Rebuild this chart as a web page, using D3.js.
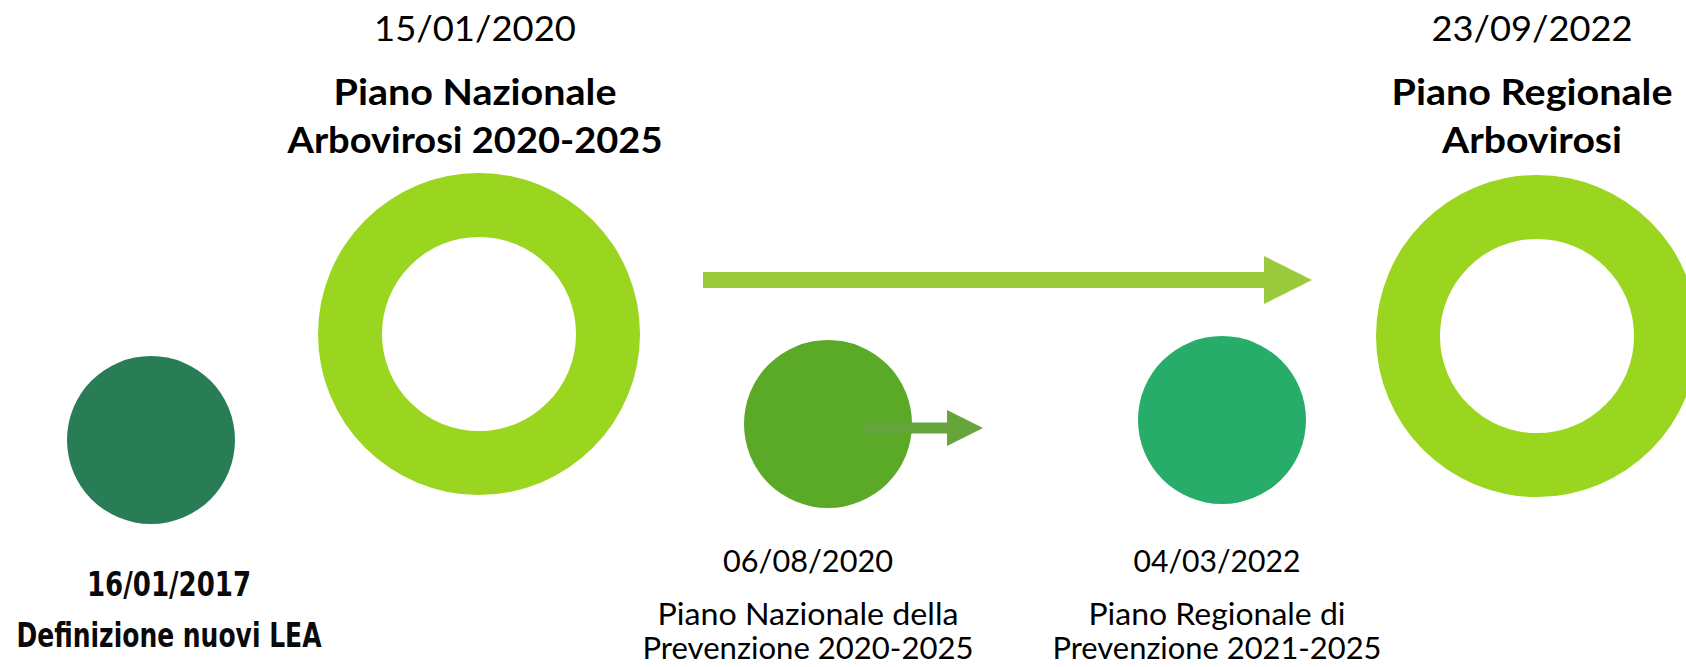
<!DOCTYPE html>
<html>
<head>
<meta charset="utf-8">
<script src="https://cdn.jsdelivr.net/npm/d3@7/dist/d3.min.js"></script>
<style>
  html, body { margin: 0; padding: 0; background: #ffffff; }
  svg { display: block; }
</style>
</head>
<body>
<svg id="chart" width="1686" height="667"></svg>
<script>
// ---------------- DATA ----------------
const dates  = ["16/01/2017", "15/01/2020", "06/08/2020", "04/03/2022", "23/09/2022"];
const titles = [
  ["Definizione nuovi LEA"],
  ["Piano Nazionale", "Arbovirosi 2020-2025"],
  ["Piano Nazionale della", "Prevenzione 2020-2025"],
  ["Piano Regionale di", "Prevenzione 2021-2025"],
  ["Piano Regionale", "Arbovirosi"]
];
const kinds  = ["dot", "ring", "dot", "dot", "ring"];
const labelStyles = ["heavy", "top", "bottom", "bottom", "top"];
const arrowFrom = ["15/01/2020", "06/08/2020"];
const arrowTo   = ["23/09/2022", "04/03/2022"];
const arrowSize = ["large", "small"];

// ---------------- LAYOUT (scales) ----------------
const W = 1686, H = 667;
const svg = d3.select("#chart");

const xCenter = d3.scaleOrdinal().domain(dates).range([151, 479, 828, 1222, 1537]);
const yCenter = d3.scaleOrdinal().domain(dates).range([440, 334, 424, 420, 336]);
const xLabel  = d3.scaleOrdinal().domain(dates).range([169, 475, 808, 1217, 1532]);
const fillOf  = d3.scaleOrdinal().domain(dates).range(["#297d56", "#9ad520", "#5aa927", "#27ad69", "#9ad520"]);
const rOuter  = d3.scaleOrdinal().domain(["dot", "ring"]).range([84, 161]);
const rInner  = d3.scaleOrdinal().domain(["dot", "ring"]).range([0, 97]);

// label line baselines per style
const styleLines = {
  top:    { date: 41,  lines: [105, 153], dateFont: "Lato", dateSize: 35, dateWeight: 400, titleSize: 36, titleWeight: 700, titleFont: "Lato" },
  bottom: { date: 572, lines: [625, 659], dateFont: "Lato", dateSize: 31, dateWeight: 400, titleSize: 30, titleWeight: 400, titleFont: "Lato" },
  heavy:  { date: 596, lines: [647],      dateFont: "DejaVu Sans", dateSize: 33, dateWeight: 700, titleSize: 33, titleWeight: 700, titleFont: "DejaVu Sans" }
};
// rendered widths of each text line (to match the reference typeface widths)
const fitWidth = {
  "15/01/2020": 202, "Piano Nazionale": 283, "Arbovirosi 2020-2025": 375,
  "23/09/2022": 201, "Piano Regionale": 281, "Arbovirosi": 180,
  "16/01/2017": 164, "Definizione nuovi LEA": 305,
  "06/08/2020": 170, "Piano Nazionale della": 301, "Prevenzione 2020-2025": 331,
  "04/03/2022": 167, "Piano Regionale di": 257, "Prevenzione 2021-2025": 329
};

const arrowGeom = {
  large: { startOff: 224, endOff: 225, headLen: 48, shaftHalf: 8,   headHalf: 24, dy: -54, color: "#9bca3c" },
  small: { startOff: 35,  endOff: 239, headLen: 36, shaftHalf: 5.5, headHalf: 18, dy: 4,   color: "#66a53b" }
};

const events = dates.map((d, i) => ({ date: d, title: titles[i], kind: kinds[i], style: labelStyles[i] }));

// ---------------- MARKS ----------------
const gMarks = svg.append("g");
const arcGen = d3.arc().startAngle(0).endAngle(2 * Math.PI);

// rings
gMarks.selectAll("path.ring")
  .data(events.filter(e => e.kind === "ring"))
  .join("path")
  .attr("class", "ring")
  .attr("transform", d => `translate(${xCenter(d.date)},${yCenter(d.date)})`)
  .attr("d", d => arcGen({ innerRadius: rInner(d.kind), outerRadius: rOuter(d.kind) }))
  .attr("fill", d => fillOf(d.date));

// dots
gMarks.selectAll("circle.dot")
  .data(events.filter(e => e.kind === "dot"))
  .join("circle")
  .attr("class", "dot")
  .attr("cx", d => xCenter(d.date))
  .attr("cy", d => yCenter(d.date))
  .attr("r", d => rOuter(d.kind))
  .attr("fill", d => fillOf(d.date));

// arrows
const arrows = arrowFrom.map((f, i) => ({ from: f, to: arrowTo[i], size: arrowSize[i] }));
gMarks.selectAll("path.arrow")
  .data(arrows)
  .join("path")
  .attr("class", "arrow")
  .attr("d", a => {
    const g = arrowGeom[a.size];
    const x0 = xCenter(a.from) + g.startOff;
    const tip = xCenter(a.to) - g.endOff;
    const xs = tip - g.headLen;
    const cy = yCenter(a.from) + g.dy;
    const p = d3.path();
    p.moveTo(x0, cy - g.shaftHalf);
    p.lineTo(xs, cy - g.shaftHalf);
    p.lineTo(xs, cy - g.headHalf);
    p.lineTo(tip, cy);
    p.lineTo(xs, cy + g.headHalf);
    p.lineTo(xs, cy + g.shaftHalf);
    p.lineTo(x0, cy + g.shaftHalf);
    p.closePath();
    return p.toString();
  })
  .attr("fill", a => arrowGeom[a.size].color);

// ---------------- LABELS ----------------
const gLab = svg.append("g");
events.forEach(e => {
  const s = styleLines[e.style];
  const x = xLabel(e.date);
  const color = e.style === "heavy" ? "#0a0a0a" : "#000000";
  const addLine = (txt, y, font, size, weight) => {
    gLab.append("text")
      .attr("x", x).attr("y", y)
      .attr("text-anchor", "middle")
      .attr("font-family", font + ", 'Open Sans', sans-serif")
      .attr("font-size", size)
      .attr("font-weight", weight)
      .attr("fill", color)
      .attr("textLength", fitWidth[txt])
      .attr("lengthAdjust", "spacingAndGlyphs")
      .text(txt);
  };
  addLine(e.date, s.date, s.dateFont, s.dateSize, s.dateWeight);
  e.title.forEach((t, j) => addLine(t, s.lines[j], s.titleFont, s.titleSize, s.titleWeight));
});
</script>
</body>
</html>
